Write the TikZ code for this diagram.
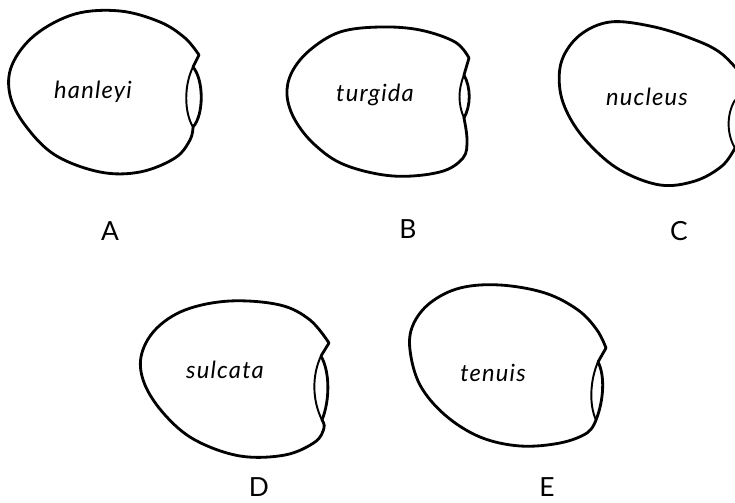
\documentclass[tikz,border=0pt]{standalone}
\usepackage{fontspec}
\setmainfont{Lato}
\tikzset{every picture/.style={line width=1.6pt,line join=round,line cap=round}}

\begin{document}
\begin{tikzpicture}[x=0.02cm,y=-0.02cm,
  lunule/.style={line width=1.1pt},
  sp/.style={font=\itshape\fontsize{13.5}{14}\selectfont\addfontfeatures{LetterSpace=5}},
  lbl/.style={font=\fontsize{15}{16}\selectfont}]
\useasboundingbox (0,0) rectangle (735,503);
\clip (0,0) rectangle (735,503);

% A
\draw plot[smooth,tension=.6] coordinates {(199,55) (185,38) (160,22) (120,11) (75,14) (35,35) (12,65) (10,95) (25,125) (55,155) (100,172) (140,172) (175,158) (190,140) (193,127)}
  .. controls (204,115) and (204,80) .. (193,67) -- (199,55);
\draw[lunule] (193,67) .. controls (184,85) and (184,112) .. (193,127);

% B
\draw plot[smooth,tension=.6] coordinates {(469,58) (455,42) (420,30) (380,27) (340,32) (310,50) (292,72) (287,95) (295,120) (315,145) (345,165) (393,176) (440,172) (463,158) (467,140) (464,118)}
  .. controls (471,105) and (471,88) .. (464,75) -- (469,58);
\draw[lunule] (464,75) .. controls (458,90) and (458,104) .. (464,118);

% C (runs off the right edge)
\draw plot[smooth,tension=.6] coordinates {(750,85) (722,54) (690,38) (650,26) (610,22) (580,35) (562,60) (560,90) (570,118) (590,145) (620,170) (660,185) (695,181) (722,166) (735,148)};
\draw[lunule] (735,100) .. controls (726,115) and (727,135) .. (735,148);

% D
\draw plot[smooth,tension=.6] coordinates {(329,343) (310,320) (280,305) (230,301) (185,310) (155,330) (141,357) (145,385) (165,415) (195,440) (240,456) (285,455) (315,442) (324,428) (322,420)}
  .. controls (330,400) and (330,372) .. (321,356) -- (329,343);
\draw[lunule] (321,356) .. controls (312,375) and (312,400) .. (322,420);

% E
\draw plot[smooth,tension=.6] coordinates {(606,348) (597,330) (578,310) (545,293) (500,285) (460,288) (430,303) (413,325) (410,350) (420,385) (445,415) (480,437) (520,446) (560,443) (587,433) (596,420)}
  .. controls (604,400) and (605,375) .. (598,362) -- (606,348);
\draw[lunule] (598,362) .. controls (590,380) and (589,405) .. (596,420);

% species names
\foreach \n/\x/\y in {hanleyi/93/92,turgida/375/95,nucleus/647/97,sulcata/225/370,tenuis/493/373}
  \node[sp] (\n) at (\x,\y) {\n};

% figure letters
\foreach \l/\x/\y in {A/110/231,B/408/229,C/679/231,D/259/487,E/547/487}
  \node[lbl] (fig\l) at (\x,\y) {\l};
\end{tikzpicture}
\end{document}
